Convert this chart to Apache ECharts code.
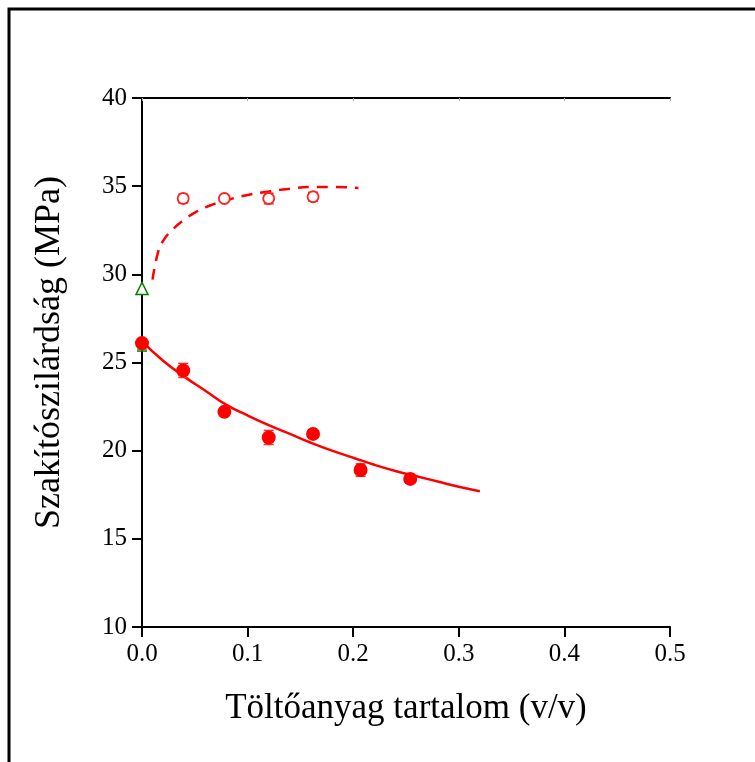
<!DOCTYPE html>
<html>
<head>
<meta charset="utf-8">
<script src="https://cdn.jsdelivr.net/npm/echarts@6/dist/echarts.min.js"></script>
<style>
  html, body { margin: 0; padding: 0; background: #fff; }
  #chart { width: 755px; height: 762px; }
</style>
</head>
<body>
<div id="chart"></div>
<script>
// measured points (filled circles) with error half-widths
const filledX = [0, 0.039, 0.078, 0.120, 0.162, 0.207, 0.254]
const filledY = [26.1, 24.55, 22.2, 20.75, 20.95, 18.9, 18.4]
const filledErr = [0.2, 0.4, 0.15, 0.4, 0.15, 0.35, 0.25]

// open circles
const openX = [0.039, 0.078, 0.120, 0.162]
const openY = [34.3, 34.3, 34.3, 34.4]
const openErr = [0.25, 0.15, 0.3, 0.25]

// green triangles at zero content
const triOpen = [[0, 29.2]]
const triFilled = [[0, 26.0]]
const triFilledErr = [0.35]

// fitted curves
const solidX = [0, 0.02, 0.04, 0.06, 0.08, 0.10, 0.12, 0.14, 0.16, 0.18, 0.20, 0.22, 0.24, 0.26, 0.28, 0.30, 0.32]
const solidY = [26.2, 25.1, 24.2, 23.4, 22.6, 22.0, 21.45, 20.95, 20.45, 20.0, 19.6, 19.2, 18.85, 18.55, 18.25, 17.95, 17.7]
const dashX = [0.01, 0.015, 0.02, 0.03, 0.04, 0.05, 0.06, 0.08, 0.10, 0.12, 0.14, 0.16, 0.18, 0.205]
const dashY = [29.7, 31.2, 31.9, 32.6, 33.1, 33.5, 33.8, 34.2, 34.5, 34.7, 34.85, 34.95, 34.95, 34.9]

const zip = (xs, ys) => xs.map((x, i) => [x, ys[i]])
const errData = (xs, ys, es) => xs.map((x, i) => [x, ys[i] - es[i], ys[i] + es[i]])

const font = 'Liberation Serif'

const errorBars = (data, color) => ({
  type: 'custom',
  z: 3,
  renderItem: (params, api) => {
    const lo = api.coord([api.value(0), api.value(1)])
    const hi = api.coord([api.value(0), api.value(2)])
    const w = 5
    const style = { stroke: color, lineWidth: 1.5 }
    return {
      type: 'group',
      children: [
        { type: 'line', shape: { x1: lo[0], y1: lo[1], x2: hi[0], y2: hi[1] }, style },
        { type: 'line', shape: { x1: lo[0] - w, y1: lo[1], x2: lo[0] + w, y2: lo[1] }, style },
        { type: 'line', shape: { x1: hi[0] - w, y1: hi[1], x2: hi[0] + w, y2: hi[1] }, style }
      ]
    }
  },
  data
})

const chart = echarts.init(document.getElementById('chart'))

const axisLine = { show: true, lineStyle: { color: '#000', width: 2 } }

chart.setOption({
  animation: false,
  backgroundColor: '#fff',
  grid: { left: 142, top: 98, width: 528, height: 529 },
  xAxis: [
    {
      type: 'value', min: 0, max: 0.5, interval: 0.1,
      axisLine, splitLine: { show: false },
      axisTick: { show: true, length: 10, inside: false, lineStyle: { color: '#000', width: 2 } },
      axisLabel: { color: '#000', fontFamily: font, fontSize: 25, margin: 15, formatter: v => v.toFixed(1) },
      name: 'Töltőanyag tartalom (v/v)', nameLocation: 'middle', nameGap: 64,
      nameTextStyle: { color: '#000', fontFamily: font, fontSize: 35 }
    },
    {
      type: 'value', position: 'top', min: 0, max: 0.5, interval: 0.1,
      axisLine, splitLine: { show: false }, axisLabel: { show: false },
      axisTick: { show: true, inside: true, length: 3, lineStyle: { color: '#aaa', width: 1 } }
    }
  ],
  yAxis: [
    {
      type: 'value', min: 10, max: 40, interval: 5,
      axisLine, splitLine: { show: false },
      axisTick: { show: true, length: 10, inside: false, lineStyle: { color: '#000', width: 2 } },
      axisLabel: { color: '#000', fontFamily: font, fontSize: 25, margin: 15 },
      name: 'Szakítószilárdság (MPa)', nameLocation: 'middle', nameGap: 74,
      nameTextStyle: { color: '#000', fontFamily: font, fontSize: 36, padding: [0, 0, 0, 20] }
    },
    {
      type: 'value', position: 'right', min: 10, max: 40, interval: 5,
      axisLine, splitLine: { show: false }, axisLabel: { show: false },
      axisTick: { show: false }
    }
  ],
  graphic: [
    {
      type: 'rect', silent: true, z: 100,
      shape: { x: 9, y: 9, width: 800, height: 800 },
      style: { fill: 'none', stroke: '#000', lineWidth: 3 }
    }
  ],
  series: [
    {
      type: 'line', data: zip(solidX, solidY), smooth: true, showSymbol: false,
      lineStyle: { color: '#ff0000', width: 2.5 }, z: 2
    },
    {
      type: 'line', data: zip(dashX, dashY), smooth: true, showSymbol: false,
      lineStyle: { color: '#ff0000', width: 2.5, type: [11, 8] }, z: 2
    },
    errorBars(errData(filledX, filledY, filledErr), '#ff3030'),
    errorBars(errData(openX, openY, openErr), '#ff3030'),
    errorBars(errData([0], [26.0], triFilledErr), '#008000'),
    {
      type: 'scatter', data: zip(filledX, filledY), symbol: 'circle', symbolSize: 14,
      itemStyle: { color: '#ff0000', opacity: 1 }, z: 4
    },
    {
      type: 'scatter', data: zip(openX, openY), symbol: 'circle', symbolSize: 11,
      itemStyle: { color: '#fff', borderColor: '#ff2020', borderWidth: 1.8, opacity: 1 }, z: 4
    },
    {
      type: 'scatter', data: triOpen, symbol: 'triangle', symbolSize: 12,
      itemStyle: { color: '#fff', borderColor: '#008000', borderWidth: 1.5, opacity: 1 }, z: 4
    },
    {
      type: 'scatter', data: triFilled, symbol: 'triangle', symbolSize: 10,
      itemStyle: { color: '#008000', opacity: 1 }, z: 3
    }
  ]
})
</script>
</body>
</html>
